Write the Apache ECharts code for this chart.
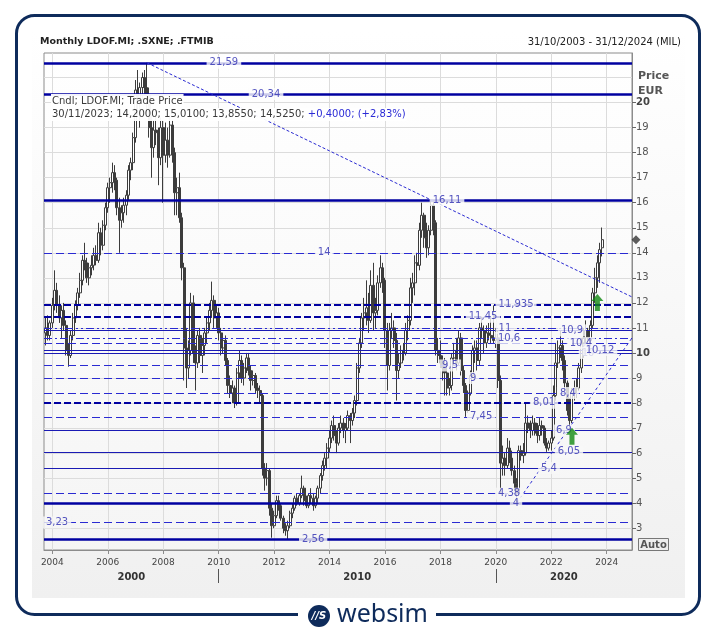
<!DOCTYPE html>
<html>
<head>
<meta charset="utf-8">
<script src="https://cdn.jsdelivr.net/npm/echarts@6.0.0/dist/echarts.min.js"></script>
<style>
html,body{margin:0;padding:0;background:#ffffff;}
#chart{width:716px;height:631px;}
</style>
</head>
<body>
<div id="chart"></div>
<script>
// ---------------- DATA ----------------
// Monthly candles, first month = Oct 2003, last = Nov 2023
const opens = [
 10.8, 11.0, 10.7,
 11.2, 11.9, 12.5, 11.9, 11.4, 11.7, 11.1, 10.1, 9.9, 10.7, 11.4, 11.9,
 12.4, 12.9, 13.7, 13.6, 13.0, 13.4, 13.5, 13.9, 13.7, 14.8, 14.3, 15.1,
 15.8, 16.6, 16.8, 17.2, 16.9, 15.8, 15.3, 15.6, 15.9, 16.3, 17.3, 17.6,
 18.6, 20.5, 20.2, 20.6, 21.0, 20.6, 20.3, 19.0, 18.2, 18.9, 18.8, 17.8,
 19.0, 17.9, 18.5, 17.9, 19.1, 18.0, 16.4, 16.6, 15.4, 13.4, 10.2, 9.4,
 10.1, 12.0, 10.0, 9.6, 10.7, 9.9, 10.3, 10.8, 11.2, 11.7, 12.1, 11.4,
 11.6, 10.8, 10.2, 10.5, 9.7, 8.7, 8.4, 8.6, 8.0, 9.2, 9.7, 9.0,
 9.4, 9.8, 9.3, 8.9, 9.1, 8.6, 8.5, 8.3, 5.4, 5.0, 5.3, 3.8,
 3.1, 3.5, 4.1, 3.9, 3.4, 3.0, 2.9, 3.1, 3.6, 3.8, 4.2, 4.0,
 4.3, 4.6, 4.1, 3.9, 4.3, 4.2, 3.9, 4.2, 4.6, 5.1, 5.5, 5.8,
 6.2, 6.6, 7.1, 6.7, 6.4, 7.0, 7.2, 6.9, 7.0, 7.5, 7.3, 7.6,
 8.1, 9.4, 10.4, 11.4, 11.6, 11.8, 11.3, 12.7, 11.6, 11.7, 12.8, 13.4,
 12.9, 10.9, 9.5, 10.9, 11.0, 10.5, 9.3, 9.6, 10.1, 10.0, 10.9, 11.3,
 12.6, 12.8, 13.6, 13.5, 14.9, 15.5, 14.6, 14.2, 14.9, 15.9, 15.2, 10.1,
 9.9, 9.6, 9.4, 9.2, 8.6, 8.7, 9.8, 10.1, 9.6, 10.6, 9.3, 8.7,
 7.7, 8.4, 9.1, 10.1, 10.2, 9.7, 11.0, 10.9, 10.4, 10.8, 10.7, 10.6,
 10.5, 10.6, 8.9, 5.6, 5.8, 5.5, 6.2, 5.8, 5.3, 4.8, 4.4, 6.1,
 5.9, 6.0, 7.2, 7.0, 6.9, 7.2, 6.8, 6.7, 7.1, 7.0, 6.4, 6.2,
 6.4, 6.6, 8.3, 9.6, 10.2, 10.3, 9.7, 8.8, 7.7, 7.3, 8.4, 8.6,
 8.6, 9.4, 10.4, 10.6, 10.9, 10.5, 11.1, 12.4, 13.0, 13.6, 14.2
];
const highs = [
 11.4, 11.5, 11.3,
 12.2, 13.3, 12.8, 12.3, 11.9, 12.0, 11.3, 10.4, 10.9, 11.6, 12.1, 12.6,
 13.2, 13.9, 14.4, 13.8, 13.6, 13.9, 14.2, 14.3, 15.2, 15.0, 15.3, 16.0,
 16.8, 17.0, 17.6, 17.5, 17.0, 16.2, 15.9, 16.2, 16.5, 17.5, 17.8, 18.8,
 20.9, 21.3, 20.8, 21.2, 21.3, 21.59, 20.6, 19.5, 19.3, 19.5, 19.0, 19.4,
 19.3, 19.2, 19.0, 19.5, 19.3, 18.2, 17.0, 17.2, 15.6, 13.6, 11.0, 10.5,
 12.4, 12.3, 10.3, 10.9, 11.0, 10.6, 11.0, 11.4, 12.0, 12.85, 12.3, 11.9,
 11.8, 11.0, 10.8, 10.7, 9.8, 9.1, 8.9, 8.7, 9.4, 10.1, 9.9, 9.6,
 10.0, 10.0, 9.5, 9.3, 9.2, 8.8, 8.7, 8.4, 5.6, 5.6, 5.4, 4.0,
 3.7, 4.3, 4.3, 4.0, 3.5, 3.2, 3.3, 3.7, 4.0, 4.3, 4.4, 4.4,
 5.1, 4.7, 4.3, 4.4, 4.6, 4.4, 4.3, 4.7, 5.2, 5.7, 6.0, 6.4,
 6.9, 7.3, 7.5, 6.9, 7.2, 7.5, 7.4, 7.2, 7.7, 7.6, 7.8, 8.3,
 9.6, 10.6, 11.6, 12.2, 12.9, 12.4, 13.3, 13.6, 12.2, 13.1, 13.9, 13.6,
 13.0, 11.2, 11.2, 11.6, 11.3, 10.8, 10.0, 10.3, 10.4, 11.2, 11.5, 13.0,
 13.2, 13.9, 14.0, 15.2, 16.0, 15.6, 15.2, 15.1, 16.11, 16.05, 15.3, 10.6,
 10.5, 9.9, 9.8, 9.6, 9.0, 10.0, 10.4, 10.6, 10.9, 10.8, 9.5, 8.8,
 8.5, 9.3, 10.3, 10.5, 10.5, 11.2, 11.45, 11.1, 11.1, 11.2, 11.4, 11.9,
 11.0, 10.9, 9.1, 6.3, 6.0, 6.6, 6.5, 6.1, 5.5, 5.0, 6.3, 6.3,
 6.4, 8.01, 7.5, 7.3, 7.5, 7.4, 7.2, 7.4, 7.3, 7.1, 6.6, 6.5,
 6.9, 8.7, 10.4, 10.5, 10.9, 10.5, 9.9, 8.9, 8.2, 8.6, 8.9, 9.0,
 9.6, 10.6, 11.0, 11.3, 11.0, 11.3, 12.6, 13.4, 13.9, 14.4, 15.01
];
const lows = [
 10.3, 10.5, 10.5,
 11.0, 11.7, 11.6, 11.2, 10.6, 10.9, 9.9, 9.45, 9.8, 10.5, 11.2, 11.7,
 12.2, 12.7, 13.3, 12.8, 12.7, 13.1, 13.3, 13.5, 13.6, 13.9, 14.1, 14.9,
 15.6, 16.0, 16.4, 16.5, 15.5, 14.0, 15.0, 15.2, 15.5, 16.1, 16.9, 17.3,
 18.4, 19.5, 19.0, 20.1, 20.3, 19.6, 18.6, 17.0, 17.8, 18.3, 16.7, 17.5,
 16.0, 17.6, 17.4, 17.8, 17.6, 15.5, 15.5, 15.2, 12.9, 8.9, 8.6, 9.0,
 9.9, 9.6, 8.5, 9.4, 9.6, 9.2, 9.9, 10.4, 10.9, 11.4, 11.0, 11.0,
 10.5, 9.9, 10.0, 9.5, 8.4, 8.2, 8.0, 7.8, 7.9, 9.0, 8.8, 8.7,
 9.2, 9.1, 8.5, 8.7, 8.4, 8.2, 8.0, 5.1, 4.5, 4.7, 3.5, 2.62,
 3.0, 3.4, 3.7, 3.3, 2.8, 2.7, 2.56, 3.0, 3.4, 3.7, 3.9, 3.9,
 4.2, 3.9, 3.8, 3.8, 4.0, 3.7, 3.8, 4.0, 4.4, 4.9, 5.3, 5.4,
 6.0, 6.4, 6.5, 6.0, 6.3, 6.8, 6.6, 6.4, 6.9, 6.4, 7.1, 7.4,
 7.9, 9.2, 10.2, 10.9, 11.1, 10.8, 11.2, 10.9, 11.0, 11.5, 12.6, 12.4,
 10.2, 8.5, 9.3, 10.6, 10.2, 8.1, 9.0, 9.4, 9.7, 9.9, 10.5, 11.1,
 12.0, 12.3, 12.9, 13.3, 14.6, 14.2, 13.8, 13.9, 14.7, 14.7, 9.9, 9.6,
 9.4, 8.9, 8.3, 8.3, 8.3, 8.5, 9.5, 9.3, 9.5, 9.1, 8.4, 7.45,
 7.6, 8.3, 9.0, 9.6, 9.3, 9.5, 10.6, 10.0, 10.2, 10.5, 10.4, 10.4,
 10.2, 8.6, 4.38, 5.1, 5.1, 5.4, 5.6, 5.1, 4.5, 4.0, 4.3, 5.7,
 5.6, 5.9, 6.8, 6.6, 6.7, 6.7, 6.4, 6.5, 6.7, 6.3, 6.05, 6.1,
 6.1, 6.5, 8.1, 9.4, 9.8, 9.3, 8.5, 7.5, 6.9, 7.2, 8.1, 8.2,
 8.5, 9.2, 9.8, 10.3, 10.1, 10.1, 11.0, 12.0, 12.6, 12.8, 13.855
];
const closes = [
 11.0, 10.7, 11.2,
 11.9, 12.5, 11.9, 11.4, 11.7, 11.1, 10.1, 9.9, 10.7, 11.4, 11.9, 12.4,
 12.9, 13.7, 13.6, 13.0, 13.4, 13.5, 13.9, 13.7, 14.8, 14.3, 15.1, 15.8,
 16.6, 16.8, 17.2, 16.9, 15.8, 15.3, 15.6, 15.9, 16.3, 17.3, 17.6, 18.6,
 20.5, 20.2, 20.6, 21.0, 20.6, 20.3, 19.0, 18.2, 18.9, 18.8, 17.8, 19.0,
 17.9, 18.5, 17.9, 19.1, 18.0, 16.4, 16.6, 15.4, 13.4, 10.2, 9.4, 10.1,
 12.0, 10.0, 9.6, 10.7, 9.9, 10.3, 10.8, 11.2, 11.7, 12.1, 11.4, 11.6,
 10.8, 10.2, 10.5, 9.7, 8.7, 8.4, 8.6, 8.0, 9.2, 9.7, 9.0, 9.4,
 9.8, 9.3, 8.9, 9.1, 8.6, 8.5, 8.3, 5.4, 5.0, 5.3, 3.8, 3.1,
 3.5, 4.1, 3.9, 3.4, 3.0, 2.9, 3.1, 3.6, 3.8, 4.2, 4.0, 4.3,
 4.6, 4.1, 3.9, 4.3, 4.2, 3.9, 4.2, 4.6, 5.1, 5.5, 5.8, 6.2,
 6.6, 7.1, 6.7, 6.4, 7.0, 7.2, 6.9, 7.0, 7.5, 7.3, 7.6, 8.1,
 9.4, 10.4, 11.4, 11.6, 11.8, 11.3, 12.7, 11.6, 11.7, 12.8, 13.4, 12.9,
 10.9, 9.5, 10.9, 11.0, 10.5, 9.3, 9.6, 10.1, 10.0, 10.9, 11.3, 12.6,
 12.8, 13.6, 13.5, 14.9, 15.5, 14.6, 14.2, 14.9, 15.9, 15.2, 10.1, 9.9,
 9.6, 9.4, 9.2, 8.6, 8.7, 9.8, 10.1, 9.6, 10.6, 9.3, 8.7, 7.7,
 8.4, 9.1, 10.1, 10.2, 9.7, 11.0, 10.9, 10.4, 10.8, 10.7, 10.6, 10.5,
 10.6, 8.9, 5.6, 5.8, 5.5, 6.2, 5.8, 5.3, 4.8, 4.4, 6.1, 5.9,
 6.0, 7.2, 7.0, 6.9, 7.2, 6.8, 6.7, 7.1, 7.0, 6.4, 6.2, 6.4,
 6.6, 8.3, 9.6, 10.2, 10.3, 9.7, 8.8, 7.7, 7.3, 8.4, 8.6, 8.6,
 9.4, 10.4, 10.6, 10.9, 10.5, 11.1, 12.4, 13.0, 13.6, 14.125, 14.525
];

// Horizontal price levels drawn on the chart
const levels = [21.59, 20.34, 16.11, 14, 11.935, 11.45, 11, 10.9, 10.6, 10.4, 10, 10.12,
                9.5, 9, 8.4, 8.01, 7.45, 6.9, 6.05, 5.4, 4.38, 4, 3.23, 2.56];
// Trend lines (date, price)
const trendHighPts = [['2007-06-01', 21.59], ['2017-09-01', 16.11]];
const trendLowPts = [['2020-10-01', 4.0], ['2024-11-30', 10.6]];
// Buy signals (date, price)
const signalDates = ['2022-10-01', '2023-09-01'];
const signalPrices = [6.67, 12.02];
const lastPrice = 14.525;
// Axis ticks
const yearTicks = [2004, 2006, 2008, 2010, 2012, 2014, 2016, 2018, 2020, 2022, 2024];
const decadeTicks = [2010, 2020];
const priceTicks = [3,4,5,6,7,8,9,10,11,12,13,14,15,16,17,18,19,20];
const gridPrices = [3,4,5,6,7,8,9,10,11,12,13,14,15,16,17,18,19,20,21];

// ---------------- STYLE / PLACEMENT ----------------
const levelKinds = ['thick','thick','thick','dash','thickDash','thickDash','dashDotDot','thin','dashDot','dash','thin','thin',
                    'dash','dash','dash','thickDash','dash','thin','thin','thin','dash','thick','dash','thick'];
const labelAtYear = [2010.19, 2011.71, 2018.24, 2013.81, 2020.73, 2019.54, 2020.33, 2022.75, 2020.48, 2023.07, 2023.33, 2023.76,
                     2018.35, 2019.18, 2022.60, 2021.74, 2019.47, 2022.46, 2022.64, 2021.92, 2020.48, 2020.73, 2004.17, 2013.41];

const NAVY = '#0000a0';
const NAVY_THIN = '#1a1ab4';
const NAVY_DASH = '#2a2ad2';
const LBL = '#2b2bb0';
const FONT = 'DejaVu Sans';
const YEAR_MS = 365.25 * 86400000;
const ym = y => Date.UTC(2000, 0, 1) + (y - 2000) * YEAR_MS;
const xMin = Date.UTC(2003, 8, 13);
const xMax = Date.UTC(2024, 10, 30);
const yMin = 2.13, yMax = 21.98;

const kindStyle = {
  thick: { width: 2.5, type: 'solid', color: NAVY },
  thickDash: { width: 2.2, type: [7, 3], color: NAVY },
  dash: { width: 1, type: [8, 4], color: NAVY_DASH },
  dashDot: { width: 1, type: [8, 3, 2, 3], color: NAVY_DASH },
  dashDotDot: { width: 1, type: [8, 3, 2, 3, 2, 3], color: NAVY_DASH },
  thin: { width: 1.1, type: 'solid', color: NAVY_THIN }
};

const candleData = closes.map((c, i) => [Date.UTC(2003, 9 + i, 1), opens[i], c, lows[i], highs[i]]);

function bgAt(v) {
  const f = (yMax - v) / (yMax - yMin);
  const g = Math.round(255 - 10 * f);
  return 'rgb(' + g + ',' + g + ',' + g + ')';
}
function toTs(d) { return new Date(d + 'T00:00:00Z').getTime(); }

const th0 = toTs(trendHighPts[0][0]), th1 = toTs(trendHighPts[1][0]);
const thSlope = (trendHighPts[1][1] - trendHighPts[0][1]) / (th1 - th0);
const thEnd = trendHighPts[0][1] + thSlope * (xMax - th0);

const markLineData = levels.map((v, i) => ({
  yAxis: v,
  lineStyle: Object.assign({}, kindStyle[levelKinds[i]])
}));
markLineData.push([
  { coord: [th0, trendHighPts[0][1]], lineStyle: { color: NAVY_DASH, width: 1, type: [3, 2] } },
  { coord: [xMax, thEnd] }
]);
markLineData.push([
  { coord: [toTs(trendLowPts[0][0]), trendLowPts[0][1]], lineStyle: { color: NAVY_DASH, width: 1, type: [3, 3] } },
  { coord: [Math.min(toTs(trendLowPts[1][0]), xMax), trendLowPts[1][1]] }
]);

const labelData = levels.map((v, i) => ({
  name: String(v).replace('.', ','),
  value: [ym(labelAtYear[i]), v],
  label: { backgroundColor: bgAt(v) }
}));

const decadeCenters = [
  (xMin + Date.UTC(2010, 0, 1)) / 2,
  (Date.UTC(2010, 0, 1) + Date.UTC(2020, 0, 1)) / 2,
  (Date.UTC(2020, 0, 1) + xMax) / 2
];

const chart = echarts.init(document.getElementById('chart'), null, { renderer: 'canvas', width: 716, height: 631 });

const option = {
  animation: false,
  backgroundColor: '#ffffff',
  grid: {
    left: 44, top: 53, width: 588, height: 497,
    show: true, borderColor: '#8c8c8c', borderWidth: 1,
    backgroundColor: new echarts.graphic.LinearGradient(0, 0, 0, 1, [
      { offset: 0, color: '#ffffff' }, { offset: 1, color: '#f5f5f5' }
    ])
  },
  xAxis: [
    {
      type: 'value', min: xMin, max: xMax, scale: true,
      axisLine: { show: true, lineStyle: { color: '#8c8c8c' } },
      axisTick: { show: true, customValues: yearTicks.map(y => Date.UTC(y, 0, 1)), length: 4, lineStyle: { color: '#8c8c8c' } },
      axisLabel: {
        customValues: yearTicks.map(y => Date.UTC(y, 0, 1)),
        formatter: v => String(new Date(v).getUTCFullYear()),
        color: '#444', fontSize: 9, fontFamily: FONT, margin: 8
      },
      splitLine: { show: true, lineStyle: { color: '#dcdcdc', width: 1 } }
    },
    {
      type: 'value', min: xMin, max: xMax, scale: true, position: 'bottom', offset: 19,
      axisLine: { show: false },
      axisTick: { show: true, customValues: decadeTicks.map(y => Date.UTC(y, 0, 1)), length: 14, lineStyle: { color: '#555' } },
      axisLabel: {
        customValues: decadeCenters,
        formatter: v => String(Math.floor(new Date(v).getUTCFullYear() / 10) * 10),
        color: '#333', fontSize: 10, fontWeight: 'bold', fontFamily: FONT, margin: 3
      },
      splitLine: { show: false }
    }
  ],
  yAxis: [
    {
      type: 'value', position: 'right', min: yMin, max: yMax,
      axisLine: { show: true, lineStyle: { color: '#8c8c8c' } },
      axisTick: { show: true, customValues: priceTicks, length: 4, lineStyle: { color: '#666' } },
      axisLabel: {
        customValues: priceTicks,
        formatter: v => (v === 10 || v === 20) ? '{b|' + v + '}' : String(v),
        rich: { b: { fontWeight: 'bold', fontSize: 10, color: '#444', fontFamily: FONT } },
        color: '#555', fontSize: 10, fontFamily: FONT, margin: 4
      },
      splitLine: { show: false }
    },
    {
      type: 'value', position: 'right', min: yMin, max: yMax,
      axisLine: { show: false },
      axisTick: { show: false, customValues: gridPrices },
      axisLabel: { show: false },
      splitLine: { show: true, lineStyle: { color: '#dcdcdc', width: 1 } }
    }
  ],
  series: [
    {
      type: 'candlestick', name: 'LDOF.MI',
      xAxisIndex: 0, yAxisIndex: 0,
      encode: { x: 0, y: [1, 2, 3, 4] },
      data: candleData,
      barWidth: 2.5,
      z: 2,
      silent: true,
      itemStyle: { color: '#ffffff', color0: '#3c3c3c', borderColor: '#3c3c3c', borderColor0: '#3c3c3c', borderWidth: 1 },
      markLine: {
        z: 5, silent: true, animation: false,
        symbol: ['none', 'none'],
        label: { show: false },
        emphasis: { disabled: true },
        data: markLineData
      }
    },
    {
      type: 'scatter', name: 'levelLabels', z: 6, silent: true,
      xAxisIndex: 0, yAxisIndex: 0,
      symbolSize: 1, itemStyle: { color: 'rgba(0,0,0,0)' },
      label: {
        show: true, position: 'inside', formatter: '{b}',
        color: LBL, fontSize: 10, fontFamily: FONT, padding: [1, 3]
      },
      data: labelData
    },
    {
      type: 'scatter', name: 'signals', z: 7, silent: true,
      xAxisIndex: 0, yAxisIndex: 0,
      symbol: 'path://M6,0 L12,7 L8.5,7 L8.5,17 L3.5,17 L3.5,7 L0,7 Z',
      symbolSize: [12, 17],
      itemStyle: { color: '#118811' },
      data: signalDates.map((d, i) => [toTs(d), signalPrices[i]])
    },
    {
      type: 'scatter', name: 'last', z: 7, silent: true, clip: false,
      xAxisIndex: 0, yAxisIndex: 0,
      symbol: 'diamond', symbolSize: 9,
      itemStyle: { color: '#333333' },
      data: [[Date.UTC(2025, 0, 22), lastPrice]]
    }
  ],
  graphic: [
    { type: 'rect', z: -20, shape: { x: 32, y: 31, width: 653, height: 567 },
      style: { fill: new echarts.graphic.LinearGradient(0, 0, 0, 1, [
        { offset: 0, color: '#ffffff' }, { offset: 1, color: '#f0f0f0' }]) } },
    { type: 'rect', z: 100, shape: { x: 16.5, y: 15.5, width: 683, height: 599, r: 18 },
      style: { fill: 'none', stroke: '#0e2b5b', lineWidth: 3 } },
    { type: 'rect', z: 101, shape: { x: 298, y: 603, width: 138, height: 26 }, style: { fill: '#ffffff' } },
    { type: 'circle', z: 102, shape: { cx: 319, cy: 616, r: 11 }, style: { fill: '#0e2b5b' } },
    { type: 'text', z: 103, x: 319, y: 616,
      style: { text: '//S', fill: '#ffffff', font: 'italic bold 10px "DejaVu Sans"', align: 'center', verticalAlign: 'middle' } },
    { type: 'text', z: 103, x: 337, y: 615,
      style: { text: 'websim', fill: '#0e2b5b', font: '25px "Noto Sans"', align: 'left', verticalAlign: 'middle' } },
    { type: 'text', z: 50, x: 40, y: 42,
      style: { text: 'Monthly LDOF.MI; .SXNE; .FTMIB', fill: '#222', font: 'bold 9.5px "DejaVu Sans"', align: 'left', verticalAlign: 'middle' } },
    { type: 'text', z: 50, x: 681, y: 42,
      style: { text: '31/10/2003 - 31/12/2024 (MIL)', fill: '#222', font: '10px "DejaVu Sans"', align: 'right', verticalAlign: 'middle' } },
    { type: 'text', z: 50, x: 638, y: 76,
      style: { text: 'Price', fill: '#555', font: 'bold 11px "DejaVu Sans"', align: 'left', verticalAlign: 'middle' } },
    { type: 'text', z: 50, x: 638, y: 91,
      style: { text: 'EUR', fill: '#555', font: 'bold 11px "DejaVu Sans"', align: 'left', verticalAlign: 'middle' } },
    { type: 'rect', z: 50, shape: { x: 638.5, y: 538.5, width: 30, height: 12 }, style: { fill: '#eeeeee', stroke: '#777', lineWidth: 1 } },
    { type: 'text', z: 51, x: 653.5, y: 545,
      style: { text: 'Auto', fill: '#555', font: 'bold 10px "DejaVu Sans"', align: 'center', verticalAlign: 'middle' } },
    { type: 'text', z: 60, x: 51, y: 101,
      style: { text: 'Cndl; LDOF.MI; Trade Price', fill: '#3a3a3a', font: '10px "DejaVu Sans"', align: 'left', verticalAlign: 'middle',
               backgroundColor: 'rgba(255,255,255,0.95)', padding: [2, 1, 2, 1] } },
    { type: 'text', z: 60, x: 51, y: 114.5,
      style: { text: '{a|30/11/2023; 14,2000; 15,0100; 13,8550; 14,5250; }{b|+0,4000; (+2,83%)}',
               font: '10px "DejaVu Sans"', align: 'left', verticalAlign: 'middle',
               rich: { a: { fill: '#3a3a3a', font: '10px "DejaVu Sans"' }, b: { fill: '#2b2bd6', font: '10px "DejaVu Sans"' } },
               backgroundColor: 'rgba(255,255,255,0.95)', padding: [1, 1, 2, 1] } }
  ]
};
chart.setOption(option);
</script>
</body>
</html>
